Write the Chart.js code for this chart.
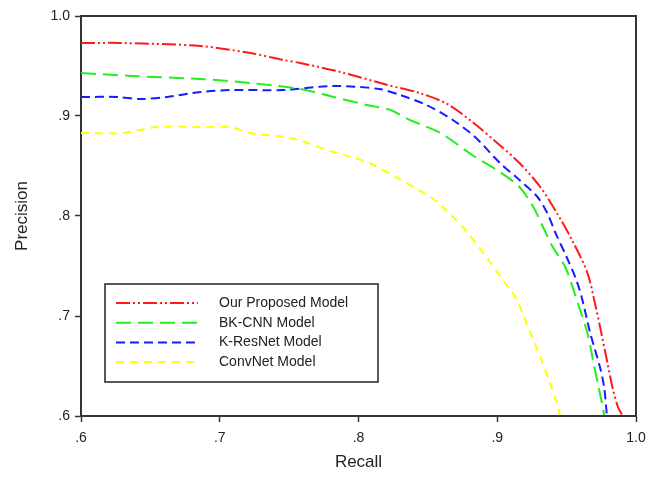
<!DOCTYPE html>
<html>
<head>
<meta charset="utf-8">
<script src="https://cdn.jsdelivr.net/npm/chart.js@4"></script>
<style>
  body { margin: 0; background: #fff; }
</style>
</head>
<body>
<canvas id="graphic-pr" width="657" height="480"></canvas>
<script>
//datos (recall / precision por modelo)
const seriesNames = ['Our Proposed Model', 'BK-CNN Model', 'K-ResNet Model', 'ConvNet Model'];

const ourRecall    = [0.600, 0.628, 0.686, 0.722, 0.746, 0.758, 0.787, 0.821, 0.844, 0.864, 0.883, 0.900, 0.916, 0.931, 0.943, 0.955, 0.965, 0.971, 0.975, 0.979, 0.983, 0.987, 0.990];
const ourPrecision = [0.973, 0.973, 0.970, 0.963, 0.956, 0.953, 0.944, 0.931, 0.923, 0.912, 0.893, 0.873, 0.853, 0.829, 0.803, 0.773, 0.743, 0.709, 0.683, 0.656, 0.629, 0.609, 0.601];

const bkRecall    = [0.600, 0.637, 0.686, 0.722, 0.758, 0.782, 0.806, 0.823, 0.837, 0.859, 0.883, 0.902, 0.916, 0.926, 0.933, 0.940, 0.949, 0.955, 0.959, 0.965, 0.969, 0.973, 0.976, 0.977];
const bkPrecision = [0.943, 0.940, 0.937, 0.933, 0.927, 0.919, 0.911, 0.906, 0.896, 0.883, 0.860, 0.844, 0.829, 0.809, 0.789, 0.769, 0.749, 0.726, 0.709, 0.683, 0.656, 0.629, 0.609, 0.601];

const resRecall    = [0.600, 0.626, 0.643, 0.662, 0.686, 0.710, 0.746, 0.782, 0.815, 0.830, 0.849, 0.868, 0.884, 0.902, 0.916, 0.929, 0.936, 0.942, 0.950, 0.957, 0.961, 0.967, 0.974, 0.977, 0.979];
const resPrecision = [0.919, 0.919, 0.917, 0.919, 0.924, 0.926, 0.926, 0.930, 0.927, 0.921, 0.911, 0.896, 0.879, 0.853, 0.836, 0.819, 0.803, 0.783, 0.759, 0.736, 0.718, 0.683, 0.649, 0.629, 0.601];

const convRecall    = [0.600, 0.630, 0.655, 0.686, 0.707, 0.722, 0.751, 0.782, 0.806, 0.828, 0.852, 0.859, 0.875, 0.890, 0.904, 0.913, 0.921, 0.931, 0.938, 0.944, 0.945];
const convPrecision = [0.883, 0.883, 0.889, 0.889, 0.889, 0.883, 0.878, 0.864, 0.854, 0.838, 0.819, 0.811, 0.789, 0.763, 0.736, 0.719, 0.693, 0.659, 0.633, 0.609, 0.601];

const xTickLabels = ['.6', '.7', '.8', '.9', '1.0'];
const yTickLabels = ['.6', '.7', '.8', '.9', '1.0'];

const toPoints = (xs, ys) => xs.map((x, i) => ({x: x, y: ys[i]}));

const fontName = '"Liberation Sans", Arial, sans-serif';

//leyenda dibujada dentro del area del grafico
const boxLegend = {
    id: 'boxLegend',
    afterDraw(chart) {
        const ctx = chart.ctx;
        const area = chart.chartArea;
        ctx.save();
        //marco superior y derecho
        ctx.strokeStyle = '#333';
        ctx.lineWidth = 2;
        ctx.beginPath();
        ctx.moveTo(area.left, area.top);
        ctx.lineTo(area.right, area.top);
        ctx.lineTo(area.right, area.bottom);
        ctx.stroke();

        ctx.lineWidth = 1.5;
        ctx.strokeStyle = '#222';
        ctx.strokeRect(105, 284, 273, 98);
        ctx.font = '14px ' + fontName;
        ctx.textBaseline = 'middle';
        chart.data.datasets.forEach((ds, i) => {
            const y = 303 + i * 19.7;
            ctx.strokeStyle = ds.borderColor;
            ctx.lineWidth = 2;
            ctx.setLineDash(ds.borderDash);
            ctx.beginPath();
            ctx.moveTo(116, y);
            ctx.lineTo(198, y);
            ctx.stroke();
            ctx.setLineDash([]);
            ctx.fillStyle = '#222';
            ctx.fillText(ds.label, 219, y);
        });
        ctx.restore();
    }
};

function lineSet(label, pts, color, dash) {
    return {
        label: label,
        data: pts,
        showLine: true,
        borderColor: color,
        borderWidth: 2,
        borderDash: dash,
        pointRadius: 0,
        tension: 0.3,
        fill: false
    };
}

const myChart = new Chart(document.getElementById('graphic-pr'), {
    type: 'scatter',
    data: {
        datasets: [
            lineSet(seriesNames[0], toPoints(ourRecall, ourPrecision), '#ff1a1a', [14, 3, 2, 3, 2, 3]),
            lineSet(seriesNames[1], toPoints(bkRecall, bkPrecision), '#22ee22', [15, 7]),
            lineSet(seriesNames[2], toPoints(resRecall, resPrecision), '#1a1aff', [9, 5]),
            lineSet(seriesNames[3], toPoints(convRecall, convPrecision), '#ffff00', [8, 6])
        ]
    },
    options: {
        responsive: false,
        animation: false,
        layout: { padding: { top: 16, right: 21, left: 0, bottom: 0 } },
        plugins: {
            legend: { display: false },
            tooltip: { enabled: false }
        },
        scales: {
            x: {
                type: 'linear',
                min: 0.6,
                max: 1.0,
                afterFit: (scale) => { scale.height = 64; },
                border: { color: '#333', width: 2 },
                grid: { drawOnChartArea: false, tickLength: 6, color: '#333', tickWidth: 1.5 },
                ticks: {
                    stepSize: 0.1,
                    autoSkip: false,
                    maxRotation: 0,
                    padding: 8,
                    color: '#222',
                    font: { family: fontName, size: 14 },
                    callback: (v, i) => xTickLabels[i]
                },
                title: {
                    display: true,
                    text: 'Recall',
                    color: '#222',
                    font: { family: fontName, size: 17 },
                    padding: { top: 0, bottom: 7 }
                }
            },
            y: {
                type: 'linear',
                min: 0.6,
                max: 1.0,
                afterFit: (scale) => { scale.width = 81; },
                border: { color: '#333', width: 2 },
                grid: { drawOnChartArea: false, tickLength: 6, color: '#333', tickWidth: 1.5 },
                ticks: {
                    stepSize: 0.1,
                    autoSkip: false,
                    padding: 5,
                    color: '#222',
                    font: { family: fontName, size: 14 },
                    callback: (v, i) => yTickLabels[i]
                },
                title: {
                    display: true,
                    text: 'Precision',
                    color: '#222',
                    font: { family: fontName, size: 17 },
                    padding: { top: 12, bottom: 0 }
                }
            }
        }
    },
    plugins: [boxLegend]
});
</script>
</body>
</html>
